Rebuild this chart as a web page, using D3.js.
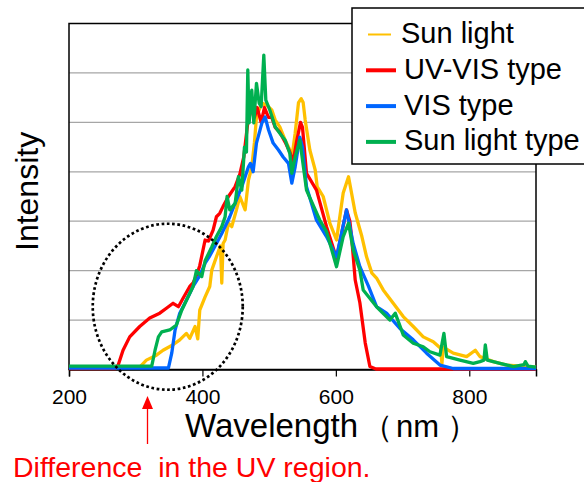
<!DOCTYPE html>
<html>
<head>
<meta charset="utf-8">
<script src="https://cdn.jsdelivr.net/npm/d3@7"></script>
<style>
  body { margin: 0; background: #fff; }
  svg { display: block; font-family: "Liberation Sans", Arial, sans-serif; }
</style>
</head>
<body>
<svg id="chart" width="584" height="482"></svg>
<script>
// spectra, [wavelength nm, intensity]
var sunLight = [[200,0.05],[306,0.05],[316,0.19],[331,0.29],[341,0.39],[356,0.5],[366,0.6],[376,0.73],[381,0.63],[389,0.87],[393,0.62],[396,1.2],[404,1.47],[411,1.68],[414,2.01],[421,2.28],[427,2.5],[429,1.75],[431,2.55],[434,2.62],[439,2.96],[444,2.89],[451,3.23],[456,3.5],[464,3.23],[469,3.83],[474,4.1],[478,4.6],[481,5.11],[489,5.39],[496,5.35],[504,5.25],[509,5.05],[516,4.91],[524,4.64],[531,4.44],[535,4.38],[539,4.78],[544,5.4],[548,5.48],[551,5.4],[554,5.05],[561,4.44],[569,4.04],[572,3.7],[581,3.5],[591,2.96],[601,2.62],[611,3.57],[619,3.9],[629,3.17],[639,2.69],[646,2.28],[654,1.95],[661,1.85],[671,1.61],[686,1.34],[701,1.07],[716,0.87],[731,0.66],[746,0.56],[757,0.43],[759,0.12],[761,0.45],[776,0.33],[796,0.26],[809,0.39],[816,0.26],[836,0.16],[856,0.09],[886,0.06],[900,0.05]];
var uvVisType = [[200,0.02],[270,0.02],[274,0.1],[281,0.39],[291,0.66],[306,0.87],[321,1.04],[336,1.14],[346,1.24],[356,1.34],[364,1.27],[371,1.44],[381,1.68],[386,1.75],[391,1.9],[396,2.1],[404,2.62],[409,2.6],[416,2.82],[421,3.09],[426,3.16],[431,3.3],[439,3.5],[449,3.7],[456,3.95],[462,4.3],[468,5.0],[474,5.3],[478,5.1],[482,5.3],[488,5.0],[493,5.3],[499,5.1],[504,5.1],[509,4.9],[516,4.8],[524,4.6],[531,4.4],[536,4.2],[541,4.6],[547,5.0],[550,4.9],[556,3.97],[571,3.63],[586,2.89],[601,2.25],[616,3.23],[621,3.0],[624,2.62],[629,1.81],[636,1.35],[644,0.54],[651,0.06],[660,0.01],[900,0.01]];
var visType = [[200,0.03],[349,0.03],[354,0.33],[359,0.8],[366,1.14],[376,1.4],[386,1.68],[396,1.9],[404,2.15],[411,2.3],[421,2.55],[429,2.75],[441,3.09],[451,3.43],[459,3.7],[469,4.1],[472,4.17],[476,4.0],[481,4.58],[489,4.98],[494,5.11],[499,4.85],[506,4.58],[514,4.44],[521,4.3],[529,4.17],[534,3.77],[539,4.1],[546,4.7],[550,4.5],[556,3.7],[571,3.02],[586,2.69],[601,2.28],[606,2.6],[616,3.23],[626,2.55],[636,2.08],[649,1.68],[661,1.27],[676,1.14],[696,0.83],[716,0.6],[736,0.33],[756,0.09],[776,0.02],[900,0.02]];
var sunLightType = [[200,0.07],[324,0.07],[329,0.39],[334,0.66],[339,0.76],[351,0.8],[361,0.9],[369,1.2],[376,1.4],[386,1.68],[391,2.0],[399,1.88],[404,2.2],[414,2.48],[421,2.69],[429,2.89],[434,3.09],[437,3.5],[441,3.23],[449,3.36],[454,3.9],[459,3.63],[463,4.5],[466,4.4],[468,6.06],[470,4.99],[474,5.65],[477,4.99],[481,5.79],[485,5.39],[488,5.32],[492,6.36],[495,5.45],[501,5.25],[509,4.91],[516,4.78],[524,4.64],[531,4.37],[534,3.97],[539,4.3],[546,4.64],[556,3.63],[576,3.02],[586,2.79],[601,2.08],[611,2.69],[619,2.96],[626,2.42],[636,2.01],[641,1.61],[661,1.27],[681,1.0],[689,1.14],[701,0.7],[716,0.53],[731,0.46],[741,0.36],[756,0.29],[762,0.73],[766,0.26],[786,0.19],[806,0.125],[816,0.16],[822,0.19],[824,0.5],[827,0.19],[846,0.125],[866,0.06],[882,0.1],[884,0.16],[888,0.07],[900,0.05]];

var seriesNames = ["Sun light", "UV-VIS type", "VIS type", "Sun light type"];
var seriesColors = ["#FFC000", "#FF0000", "#0066FF", "#00B050"];
var xTicks = [200, 400, 600, 800];
var yGrid = [1, 2, 3, 4, 5, 6];

var svg = d3.select("#chart"),
    x = d3.scaleLinear().domain([200, 900]).range([69, 536]),
    y = d3.scaleLinear().domain([0, 7]).range([369.5, 23.5]);

// grid lines
svg.selectAll(".grid").data(yGrid).enter().append("line")
    .attr("x1", x(200)).attr("x2", x(900))
    .attr("y1", d => y(d)).attr("y2", d => y(d))
    .attr("stroke", "#A6A6A6").attr("stroke-width", 1.3);

// frame
svg.append("rect")
    .attr("x", x(200)).attr("y", y(7))
    .attr("width", x(900) - x(200)).attr("height", y(0) - y(7))
    .attr("fill", "none").attr("stroke", "#000").attr("stroke-width", 1.5);

// x axis
var xAxis = svg.append("g")
    .attr("transform", "translate(0," + y(0) + ")")
    .call(d3.axisBottom(x).tickValues(xTicks).tickSize(7).tickPadding(13));
xAxis.select(".domain").attr("stroke-width", 1.5);
xAxis.selectAll("line").attr("stroke-width", 1.2);
xAxis.selectAll("text")
    .attr("font-family", "Liberation Sans, Arial, sans-serif")
    .attr("font-size", 21).attr("fill", "#000");

// spectra
var line = d3.line().x(d => x(d[0])).y(d => y(d[1]));
var allSeries = [sunLight, uvVisType, visType, sunLightType];
svg.selectAll(".spec").data(allSeries).enter().append("path")
    .attr("d", line)
    .attr("fill", "none")
    .attr("stroke", (d, i) => seriesColors[i])
    .attr("stroke-width", 3.3)
    .attr("stroke-linejoin", "round");

// dotted ellipse over the UV region
svg.append("ellipse")
    .attr("cx", x(348)).attr("cy", y(1.27))
    .attr("rx", 75).attr("ry", 83)
    .attr("fill", "none").attr("stroke", "#000")
    .attr("stroke-width", 2.7).attr("stroke-dasharray", "2.7 2.6");

// legend
svg.append("rect")
    .attr("x", 352).attr("y", 8).attr("width", 240).attr("height", 156)
    .attr("fill", "#fff").attr("stroke", "#000").attr("stroke-width", 1.5);
var leg = svg.selectAll(".leg").data(seriesNames).enter().append("g")
    .attr("transform", (d, i) => "translate(0," + (34.5 + i * 35.8) + ")");
leg.append("line")
    .attr("x1", (d, i) => i == 0 ? 368 : 366)
    .attr("x2", (d, i) => i == 0 ? 391 : 396)
    .attr("stroke", (d, i) => seriesColors[i])
    .attr("stroke-width", (d, i) => i == 0 ? 2 : 4);
leg.append("text")
    .attr("x", (d, i) => i == 0 ? 401 : 404)
    .attr("y", 8.5)
    .attr("font-size", 29)
    .text(d => d);

// axis titles
svg.append("text")
    .attr("transform", "translate(38,251) rotate(-90)")
    .attr("font-size", 32)
    .text("Intensity");
var xt = svg.append("text").attr("x", 185).attr("y", 437).attr("font-size", 33);
xt.append("tspan").text("Wavelength");
xt.append("tspan").attr("x", 362).attr("font-size", 31).text("（");
xt.append("tspan").attr("x", 396).attr("font-size", 31).text("nm");
xt.append("tspan").attr("x", 447).attr("font-size", 31).text("）");

// annotation
svg.append("path")
    .attr("d", d3.line()([[147.5, 444], [147.5, 406]]))
    .attr("stroke", "#FF0000").attr("stroke-width", 1.3);
svg.append("path")
    .attr("d", d3.line()([[147.5, 396], [142, 409], [153, 409]]) + "Z")
    .attr("fill", "#FF0000");
svg.append("text")
    .attr("x", 13).attr("y", 477)
    .attr("font-size", 28.5)
    .attr("fill", "#FF0000")
    .style("white-space", "pre")
    .text("Difference  in the UV region.");
</script>
</body>
</html>
